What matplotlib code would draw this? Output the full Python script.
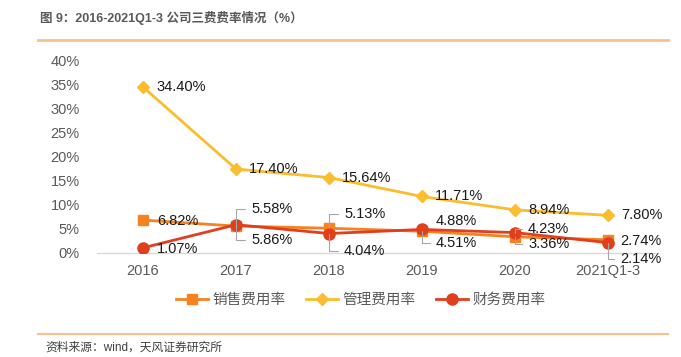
import matplotlib
matplotlib.use("Agg")
import matplotlib.pyplot as plt
from matplotlib.lines import Line2D

plt.rcParams['font.family'] = ['Liberation Sans', 'Noto Sans CJK SC', 'DejaVu Sans']

# data (%)
years = ["2016", "2017", "2018", "2019", "2020", "2021Q1-3"]
sales_rate = [6.82, 5.58, 5.13, 4.51, 3.36, 2.74]
admin_rate = [34.40, 17.40, 15.64, 11.71, 8.94, 7.80]
finance_rate = [1.07, 5.86, 4.04, 4.88, 4.23, 2.14]
series_names = ["销售费用率", "管理费用率", "财务费用率"]

c_sales = "#F5821F"
c_admin = "#FBBC2D"
c_fin = "#E03E1C"

fig = plt.figure(figsize=(6.81, 3.57), dpi=100)
ax = fig.add_axes([96.5 / 681, 1 - 253 / 357, 558 / 681, 193 / 357])

x = list(range(len(years)))
ax.plot(x, sales_rate, color=c_sales, lw=2, marker="s", ms=7, zorder=3)
ax.plot(x, admin_rate, color=c_admin, lw=2, marker="D", ms=6, zorder=3)
ax.plot(x, finance_rate, color=c_fin, lw=2, marker="o", ms=8, zorder=4)

ax.set_xlim(-0.5, len(years) - 0.5)
ax.set_ylim(0, 40)
ax.set_yticks(range(0, 41, 5))
ax.set_yticklabels([f"{v}%" for v in range(0, 41, 5)])
ax.set_xticks(x)
ax.set_xticklabels(years)
ax.tick_params(axis="both", length=0, labelsize=10.5, colors="#595959")
ax.tick_params(axis="y", pad=12)
ax.tick_params(axis="x", pad=8)
for s in ["top", "right", "left"]:
    ax.spines[s].set_visible(False)
ax.spines["bottom"].set_color("#D9D9D9")
ax.spines["bottom"].set_linewidth(1)


def label(i, vals, dx, dy, leader=False):
    v = vals[i]
    kw = {}
    if leader:
        kw["arrowprops"] = dict(arrowstyle="-", color="#A6A6A6", lw=0.8,
                                connectionstyle="angle,angleA=0,angleB=90,rad=0",
                                relpos=(0, 0.5), shrinkA=2, shrinkB=0)
    ax.annotate(f"{v:.2f}%", (x[i], v), xytext=(dx, dy), textcoords="offset pixels",
                ha="left", va="center", fontsize=10.5, color="#1a1a1a", zorder=5, **kw)


# admin labels to the right
for i in range(6):
    label(i, admin_rate, 13, 0)

label(0, sales_rate, 14, -1)
label(0, finance_rate, 14, -1)
label(1, sales_rate, 15, 17, True)
label(1, finance_rate, 15, -15, True)
label(2, sales_rate, 15, 14, True)
label(2, finance_rate, 15, -17, True)
label(3, finance_rate, 14, 8)
label(3, sales_rate, 14, -12, True)
label(4, finance_rate, 13, 4, True)
label(4, sales_rate, 13, -7, True)
label(5, sales_rate, 12, -1)
label(5, finance_rate, 12, -16, True)

handles = [
    Line2D([], [], color=c_sales, lw=2, marker="s", ms=7),
    Line2D([], [], color=c_admin, lw=2, marker="D", ms=6),
    Line2D([], [], color=c_fin, lw=2, marker="o", ms=8),
]
fig.legend(handles, series_names, loc="center", bbox_to_anchor=(361 / 681, 1 - 300 / 357),
           ncol=3, frameon=False, fontsize=10.5, handlelength=2.2, columnspacing=1.4,
           handletextpad=0.3, labelcolor="#595959")

fig.text(40 / 681, 1 - 18 / 357, "图 9：2016-2021Q1-3 公司三费费率情况（%）", fontsize=9,
         fontweight="bold", color="#595959", va="center", ha="left")
fig.add_artist(Line2D([38 / 681, 668 / 681], [1 - 40 / 357, 1 - 40 / 357], color="#F8C08F", lw=2))
fig.add_artist(Line2D([38 / 681, 668 / 681], [1 - 334 / 357, 1 - 334 / 357], color="#F8C08F", lw=1.5))
fig.text(45 / 681, 1 - 348 / 357, "资料来源：wind，天风证券研究所", fontsize=8.5, color="#404040",
         va="center", ha="left")

fig.savefig("out.png", dpi=100)
